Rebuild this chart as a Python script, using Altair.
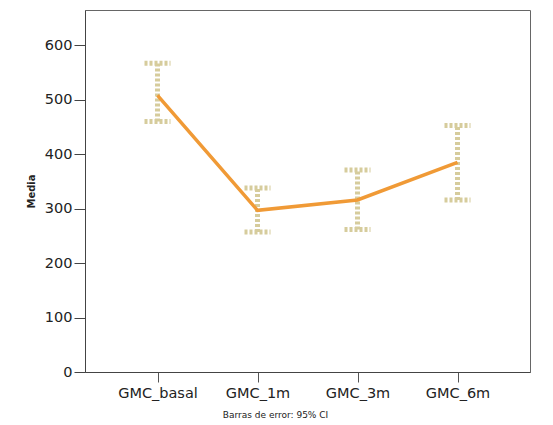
import altair as alt
import pandas as pd

categories = ["GMC_basal", "GMC_1m", "GMC_3m", "GMC_6m"]
means = [508, 297, 316, 385]
ci_low = [460, 257, 262, 316]
ci_high = [567, 338, 371, 453]

df = pd.DataFrame({"cat": categories, "mean": means, "lo": ci_low, "hi": ci_high})

FONT = "DejaVu Sans"
xs = alt.Scale(type="point", domain=categories, padding=0.725)
ys = alt.Scale(domain=[0, 665], nice=False)

xenc = alt.X("cat:N", scale=xs, sort=categories,
             axis=alt.Axis(title="Barras de error: 95% CI", labelAngle=0, labelFontSize=14.5,
                           labelFont=FONT, labelColor="#222", labelPadding=4,
                           titleFont=FONT, titleFontSize=9, titleFontWeight="normal",
                           titleColor="#222", titleX=190, titleY=38,
                           tickSize=10, tickColor="#555", domainColor="#444",
                           grid=False))
yaxis = alt.Axis(title="Media", values=[0, 100, 200, 300, 400, 500, 600],
                 labelFontSize=14.5, labelFont=FONT, labelColor="#222", labelPadding=2,
                 titleFont=FONT, titleFontSize=10, titleFontWeight="bold", titleColor="#222",
                 titlePadding=8, tickSize=11, tickColor="#444", domainColor="#444", grid=False)

base = alt.Chart(df)
tan = "#d6cc9c"

vbar = base.mark_rule(color=tan, strokeWidth=5, strokeDash=[3, 2]).encode(
    x=xenc, y=alt.Y("lo:Q", scale=ys, axis=yaxis), y2="hi:Q")
cap_hi = base.mark_rule(color=tan, strokeWidth=5, strokeDash=[3, 2], xOffset=-13, x2Offset=13).encode(
    x=alt.X("cat:N", scale=xs, sort=categories), x2="cat:N", y=alt.Y("hi:Q", scale=ys))
cap_lo = base.mark_rule(color=tan, strokeWidth=5, strokeDash=[3, 2], xOffset=-13, x2Offset=13).encode(
    x=alt.X("cat:N", scale=xs, sort=categories), x2="cat:N", y=alt.Y("lo:Q", scale=ys))
line = base.mark_line(color="#f09a36", strokeWidth=3.5).encode(
    x=alt.X("cat:N", scale=xs, sort=categories), y=alt.Y("mean:Q", scale=ys))

chart = alt.layer(vbar, cap_hi, cap_lo, line).properties(
    width=445, height=362,
    autosize=alt.AutoSizeParams(type="none"),
    padding={"left": 77, "top": 2, "right": 10, "bottom": 50},
).configure_view(stroke="#666", strokeWidth=1)

chart.save("out.html", embed_options={"renderer": "svg", "actions": False})
